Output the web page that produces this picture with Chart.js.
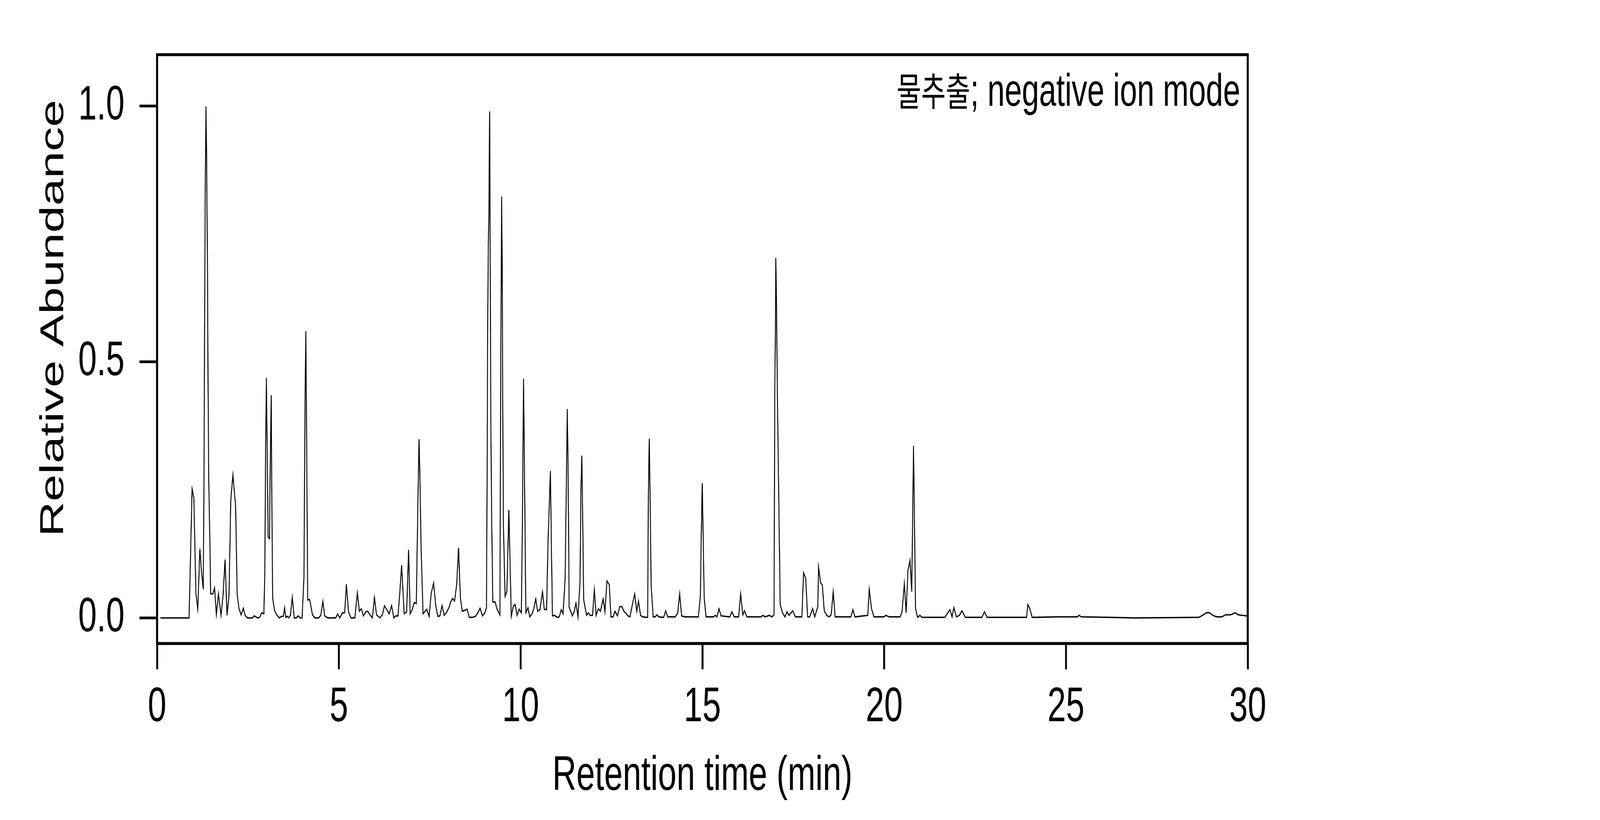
<!DOCTYPE html>
<html>
<head>
<meta charset="utf-8">
<script src="https://cdn.jsdelivr.net/npm/chart.js@4.4.1/dist/chart.umd.min.js"></script>
<style>
  html, body { margin: 0; padding: 0; background: #fff; overflow: hidden; }
  canvas { display: block; }
</style>
</head>
<body>
<canvas id="canvas" width="6000" height="2100" style="width:100vw;height:100vh"></canvas>
<script>
// retention time (min) and relative abundance
const rtMin = [
  0.09, 0.88, 0.964, 1.011, 1.069, 1.119, 1.177, 1.217, 1.271, 1.288, 1.305, 1.322, 1.345, 1.362, 1.389, 1.402, 1.422, 1.456, 1.473,
  1.537, 1.581, 1.631, 1.688, 1.759, 1.816, 1.87, 1.924, 1.978, 2.028, 2.086, 2.16, 2.204, 2.254, 2.311, 2.372, 2.422, 2.483,
  2.618, 2.672, 2.77, 2.82, 2.877, 2.938, 2.965, 2.985, 3.008, 3.025, 3.055, 3.093, 3.113, 3.14, 3.16, 3.18, 3.23, 3.274,
  3.358, 3.426, 3.473, 3.507, 3.54, 3.584, 3.618, 3.668, 3.719, 3.773, 3.83, 3.88, 3.938, 3.988, 4.039, 4.055, 4.069, 4.092,
  4.106, 4.123, 4.143, 4.197, 4.274, 4.342, 4.443, 4.503, 4.56, 4.611, 4.695, 4.914, 4.965, 5.025, 5.1, 5.16, 5.207, 5.265,
  5.333, 5.44, 5.508, 5.565, 5.619, 5.676, 5.743, 5.794, 5.855, 5.922, 5.979, 6.036, 6.124, 6.198, 6.255, 6.383, 6.45, 6.511,
  6.568, 6.626, 6.676, 6.727, 6.797, 6.865, 6.918, 6.962, 7.023, 7.073, 7.13, 7.174, 7.205, 7.225, 7.262, 7.316, 7.417, 7.484,
  7.538, 7.605, 7.669, 7.723, 7.78, 7.838, 7.898, 7.955, 8.026, 8.077, 8.127, 8.184, 8.242, 8.292, 8.343, 8.393, 8.471, 8.528,
  8.589, 8.673, 8.757, 8.824, 8.885, 8.949, 9.016, 9.06, 9.077, 9.094, 9.11, 9.127, 9.147, 9.161, 9.178, 9.201, 9.235, 9.299,
  9.353, 9.43, 9.44, 9.454, 9.464, 9.477, 9.491, 9.504, 9.525, 9.572, 9.622, 9.676, 9.743, 9.8, 9.851, 9.902, 9.959, 10.02,
  10.047, 10.08, 10.107, 10.144, 10.202, 10.25, 10.314, 10.363, 10.415, 10.467, 10.531, 10.602, 10.651, 10.714, 10.755, 10.819, 10.849, 10.875,
  10.931, 11.006, 11.062, 11.118, 11.167, 11.223, 11.26, 11.283, 11.305, 11.335, 11.421, 11.473, 11.522, 11.578, 11.634, 11.66, 11.683, 11.705,
  11.735, 11.814, 11.859, 11.915, 11.978, 12.027, 12.076, 12.139, 12.195, 12.27, 12.319, 12.375, 12.439, 12.483, 12.543, 12.595, 12.663, 12.726,
  12.786, 12.839, 12.898, 12.954, 13.007, 13.074, 13.138, 13.194, 13.242, 13.298, 13.354, 13.493, 13.515, 13.538, 13.56, 13.59, 13.646, 13.702,
  13.747, 13.803, 13.934, 13.99, 14.046, 14.252, 14.319, 14.375, 14.428, 14.514, 14.888, 14.944, 14.97, 14.996, 15.019, 15.049, 15.101, 15.307,
  15.352, 15.4, 15.456, 15.512, 15.755, 15.811, 15.875, 15.998, 16.051, 16.111, 16.159, 16.223, 16.616, 16.664, 16.728, 16.84, 16.915, 16.971,
  16.99, 17.004, 17.019, 17.038, 17.064, 17.074, 17.11, 17.14, 17.203, 17.27, 17.326, 17.382, 17.483, 17.558, 17.737, 17.782, 17.842, 17.894,
  17.95, 18.033, 18.089, 18.175, 18.194, 18.25, 18.299, 18.351, 18.418, 18.486, 18.542, 18.598, 18.65, 19.084, 19.14, 19.196, 19.548, 19.589,
  19.652, 19.719, 19.996, 20.045, 20.138, 20.44, 20.491, 20.554, 20.604, 20.653, 20.709, 20.758, 20.807, 20.863, 20.919, 20.982, 21.039, 21.67,
  21.74, 21.81, 21.867, 21.916, 21.986, 22.07, 22.14, 22.232, 22.688, 22.758, 22.828, 23.916, 23.951, 24.007, 24.07, 24.793, 25.319, 25.354,
  25.425, 26.196, 26.898, 28.653, 28.758, 28.863, 28.947, 29.039, 29.144, 29.284, 29.39, 29.53, 29.656, 29.74, 29.846, 29.972
];
const relAbundance = [
  0, 0, 0.252, 0.235, 0.047, 0.017, 0.135, 0.095, 0.056, 0.243, 0.525, 0.811, 0.999, 0.906, 0.659, 0.462, 0.264, 0.137, 0.047,
  0.047, 0.059, 0.006, 0.047, 0.005, 0.045, 0.114, 0.005, 0.043, 0.231, 0.279, 0.218, 0.045, 0.018, 0.006, 0.019, 0.005, 0,
  0, 0.004, 0, 0.001, 0.01, 0.008, 0.095, 0.335, 0.469, 0.342, 0.158, 0.155, 0.299, 0.435, 0.2, 0.038, 0.015, 0.008,
  0, 0.003, 0.003, 0.02, 0.001, 0.003, 0, 0.005, 0.04, 0, 0, 0.004, 0, 0, 0.077, 0.243, 0.419, 0.56,
  0.419, 0.257, 0.035, 0.036, 0.006, 0, 0, 0.005, 0.032, 0.004, 0, 0, 0.008, 0, 0.01, 0.01, 0.066, 0.012,
  0, 0, 0.049, 0.013, 0.018, 0.004, 0.012, 0.013, 0.006, 0, 0.04, 0.006, 0, 0.006, 0.024, 0.008, 0.024, 0,
  0.004, 0.004, 0.049, 0.103, 0.008, 0.012, 0.133, 0.008, 0.017, 0.03, 0.028, 0.222, 0.349, 0.292, 0.137, 0.008, 0.017, 0.003,
  0.047, 0.068, 0.022, 0.003, 0.004, 0.024, 0.005, 0.01, 0.02, 0.031, 0.038, 0.033, 0.066, 0.137, 0.04, 0.013, 0.015, 0.017,
  0.001, 0.001, 0.003, 0.01, 0.019, 0.004, 0.01, 0.02, 0.257, 0.574, 0.723, 0.786, 0.989, 0.758, 0.419, 0.207, 0.031, 0.031,
  0.017, 0.006, 0.207, 0.518, 0.617, 0.823, 0.716, 0.49, 0.186, 0.042, 0.052, 0.211, 0.003, 0.023, 0.026, 0.005, 0.017, 0.01,
  0.172, 0.467, 0.278, 0.01, 0.02, 0.002, 0.008, 0.018, 0.037, 0.013, 0.016, 0.051, 0.017, 0.016, 0.151, 0.287, 0.127, 0.004,
  0.005, 0.001, 0.002, 0.016, 0.008, 0.075, 0.271, 0.408, 0.295, 0.021, 0.004, 0.012, 0.029, 0.002, 0.071, 0.255, 0.317, 0.207,
  0.035, 0.005, 0.01, 0.005, 0.005, 0.055, 0.005, 0.018, 0.013, 0.037, 0.012, 0.072, 0.065, 0.002, 0.002, 0.013, 0.004, 0.022,
  0.022, 0.013, 0.009, 0.004, 0.002, 0.026, 0.047, 0.013, 0.033, 0.005, 0.002, 0.001, 0.247, 0.35, 0.247, 0.063, 0.002, 0.002,
  0.006, 0.002, 0.001, 0.014, 0.002, 0.002, 0.009, 0.047, 0.004, 0.002, 0.002, 0.043, 0.167, 0.263, 0.167, 0.039, 0.002, 0.002,
  0.005, 0.002, 0.018, 0.004, 0.002, 0.012, 0.002, 0.002, 0.047, 0.006, 0.014, 0.002, 0.002, 0.005, 0.002, 0.005, 0.002, 0.006,
  0.44, 0.528, 0.703, 0.617, 0.424, 0.376, 0.183, 0.026, 0.01, 0.002, 0.012, 0.005, 0.014, 0.002, 0.002, 0.088, 0.077, 0.002,
  0.002, 0.018, 0.002, 0.022, 0.1, 0.069, 0.064, 0.014, 0.005, 0.002, 0.006, 0.051, 0.002, 0.002, 0.016, 0.002, 0.005, 0.056,
  0.018, 0.002, 0.002, 0.005, 0.002, 0.002, 0.012, 0.067, 0.01, 0.093, 0.112, 0.051, 0.336, 0.018, 0.001, 0.005, 0.001, 0.001,
  0.009, 0.016, 0.002, 0.02, 0.002, 0.005, 0.014, 0.001, 0.001, 0.012, 0.001, 0.001, 0.026, 0.018, 0.001, 0.002, 0.002, 0.005,
  0.002, 0.001, 0, 0.001, 0.005, 0.01, 0.01, 0.005, 0.002, 0.002, 0.006, 0.006, 0.01, 0.006, 0.005, 0.004
];
const xTicks = [0, 5, 10, 15, 20, 25, 30];
const yTicks = [0.0, 0.5, 1.0];
const xTitle = "Retention time (min)";
const yTitle = "Relative Abundance";
const noteKo = "물추출";
const noteEn = "; negative ion mode";

const font = "Liberation Sans, Arial, sans-serif";

const points = rtMin.map(function (t, i) {
  return { x: t, y: relAbundance[i] };
});

// box round the plot, axis titles and the note in the corner
const frame = {
  id: "frame",
  afterDraw(chart) {
    const ctx = chart.ctx;
    const a = chart.chartArea;
    ctx.save();
    ctx.strokeStyle = "#000";
    ctx.lineWidth = 7.5;
    ctx.strokeRect(a.left, a.top, a.right - a.left, a.bottom - a.top);

    ctx.fillStyle = "#000";
    ctx.textBaseline = "alphabetic";
    ctx.textAlign = "center";
    ctx.font = "125px " + font;
    ctx.fillText(xTitle, (a.left + a.right) / 2, 2023);

    ctx.save();
    ctx.translate(237, 815);
    ctx.rotate(-Math.PI / 2);
    ctx.fillText(yTitle, 0, 0);
    ctx.restore();

    ctx.textAlign = "right";
    ctx.font = "116px " + font;
    const noteRight = a.right - 28;
    ctx.fillText(noteEn, noteRight, 271);
    const w = ctx.measureText(noteEn).width;
    ctx.font = "100px 'Noto Sans CJK KR', sans-serif";
    ctx.fillText(noteKo, noteRight - w, 271);
    ctx.restore();
  },
};

const ctx = document.getElementById("canvas").getContext("2d");
const myChart = new Chart(ctx, {
  type: "line",
  data: {
    datasets: [
      {
        data: points,
        borderColor: "#000",
        backgroundColor: "transparent",
        borderWidth: 3.5,
        pointRadius: 0,
        fill: false,
      },
    ],
  },
  options: {
    responsive: false,
    devicePixelRatio: 1,
    animation: false,
    layout: {
      padding: { left: 0, right: 1321, top: 140, bottom: 0 },
    },
    plugins: {
      legend: { display: false },
      tooltip: { enabled: false },
    },
    elements: {
      line: { tension: 0 },
    },
    scales: {
      x: {
        type: "linear",
        min: 0,
        max: 30,
        afterFit(scale) {
          scale.height = 452;
        },
        afterBuildTicks(scale) {
          scale.ticks = xTicks.map((v) => ({ value: v }));
        },
        border: { display: false },
        grid: {
          drawOnChartArea: false,
          drawTicks: true,
          tickLength: 66,
          tickWidth: 7,
          tickColor: "#000",
        },
        ticks: {
          color: "#000",
          font: { family: font, size: 125 },
          padding: 24,
          maxRotation: 0,
        },
      },
      y: {
        type: "linear",
        min: -0.05,
        max: 1.1,
        afterFit(scale) {
          scale.width = 589;
        },
        afterBuildTicks(scale) {
          scale.ticks = yTicks.map((v) => ({ value: v }));
        },
        border: { display: false },
        grid: {
          drawOnChartArea: false,
          drawTicks: true,
          tickLength: 66,
          tickWidth: 7,
          tickColor: "#000",
        },
        ticks: {
          color: "#000",
          font: { family: font, size: 125 },
          padding: 56,
          callback: (v) => v.toFixed(1),
        },
      },
    },
  },
  plugins: [frame],
});
</script>
</body>
</html>
